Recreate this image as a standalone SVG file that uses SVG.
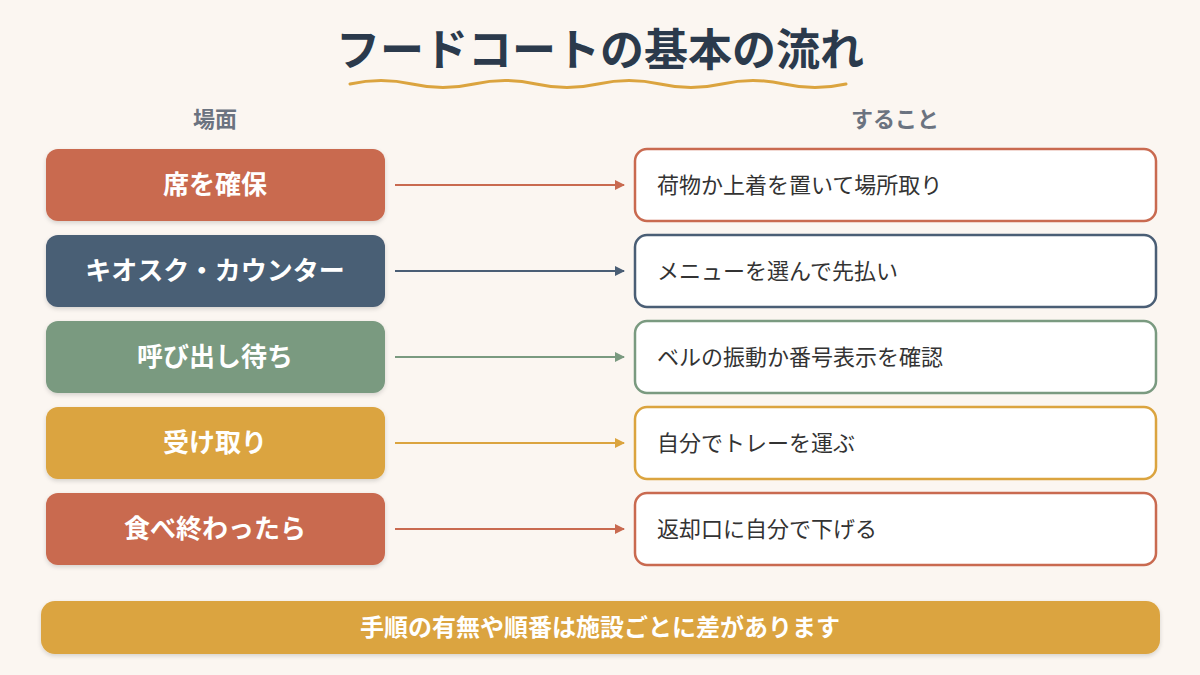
<svg xmlns="http://www.w3.org/2000/svg" width="1200" height="675" viewBox="0 0 1200 675">
<defs>
<style>
text{font-family:"Noto Sans CJK JP","Noto Sans",sans-serif}
.l{font-size:26px;font-weight:bold;fill:#fff;text-anchor:middle}
.r{font-size:22px;fill:#333}
.h{font-size:22px;font-weight:bold;fill:#6b7380;text-anchor:middle}
.rb{fill:#fff;stroke-width:2.5}
</style>
<filter id="sh" x="-5%" y="-10%" width="110%" height="130%"><feDropShadow dx="0" dy="2" stdDeviation="2" flood-color="#000" flood-opacity="0.15"/></filter>
<marker id="a1" markerWidth="10" markerHeight="10" refX="9" refY="5" orient="auto" markerUnits="userSpaceOnUse"><path d="M0,0 L10,5 L0,10z" fill="#C96A50"/></marker>
<marker id="a2" markerWidth="10" markerHeight="10" refX="9" refY="5" orient="auto" markerUnits="userSpaceOnUse"><path d="M0,0 L10,5 L0,10z" fill="#4A5E75"/></marker>
<marker id="a3" markerWidth="10" markerHeight="10" refX="9" refY="5" orient="auto" markerUnits="userSpaceOnUse"><path d="M0,0 L10,5 L0,10z" fill="#7A9A80"/></marker>
<marker id="a4" markerWidth="10" markerHeight="10" refX="9" refY="5" orient="auto" markerUnits="userSpaceOnUse"><path d="M0,0 L10,5 L0,10z" fill="#DBA43F"/></marker>
</defs>
<rect width="1200" height="675" fill="#FBF6F1"/>
<text x="600" y="66" font-size="44" font-weight="bold" fill="#2B3A4C" text-anchor="middle">フードコートの基本の流れ</text>
<path d="M350,84 q31,-7 62,0 t62,0 t62,0 t62,0 t62,0 t62,0 t62,0 t62,0" fill="none" stroke="#DBA43F" stroke-width="3" stroke-linecap="round"/>
<text class="h" x="215" y="127">場面</text>
<text class="h" x="895" y="127">すること</text>
<g id="connectors" stroke-width="2">
<line x1="395" y1="185" x2="624" y2="185" stroke="#C96A50" marker-end="url(#a1)"/>
<line x1="395" y1="271" x2="624" y2="271" stroke="#4A5E75" marker-end="url(#a2)"/>
<line x1="395" y1="357" x2="624" y2="357" stroke="#7A9A80" marker-end="url(#a3)"/>
<line x1="395" y1="443" x2="624" y2="443" stroke="#DBA43F" marker-end="url(#a4)"/>
<line x1="395" y1="529" x2="624" y2="529" stroke="#C96A50" marker-end="url(#a1)"/>
</g>
<g id="n1"><rect x="46" y="149" width="339" height="72" rx="12" fill="#C96A50" filter="url(#sh)"/><text class="l" x="215" y="194">席を確保</text></g>
<g id="n2"><rect x="46" y="235" width="339" height="72" rx="12" fill="#4A5E75" filter="url(#sh)"/><text class="l" x="215" y="280">キオスク・カウンター</text></g>
<g id="n3"><rect x="46" y="321" width="339" height="72" rx="12" fill="#7A9A80" filter="url(#sh)"/><text class="l" x="215" y="366">呼び出し待ち</text></g>
<g id="n4"><rect x="46" y="407" width="339" height="72" rx="12" fill="#DBA43F" filter="url(#sh)"/><text class="l" x="215" y="452">受け取り</text></g>
<g id="n5"><rect x="46" y="493" width="339" height="72" rx="12" fill="#C96A50" filter="url(#sh)"/><text class="l" x="215" y="538">食べ終わったら</text></g>
<g id="m1"><rect class="rb" x="635" y="149" width="521" height="72" rx="12" stroke="#C96A50"/><text class="r" x="657" y="193">荷物か上着を置いて場所取り</text></g>
<g id="m2"><rect class="rb" x="635" y="235" width="521" height="72" rx="12" stroke="#4A5E75"/><text class="r" x="657" y="279">メニューを選んで先払い</text></g>
<g id="m3"><rect class="rb" x="635" y="321" width="521" height="72" rx="12" stroke="#7A9A80"/><text class="r" x="657" y="365">ベルの振動か番号表示を確認</text></g>
<g id="m4"><rect class="rb" x="635" y="407" width="521" height="72" rx="12" stroke="#DBA43F"/><text class="r" x="657" y="451">自分でトレーを運ぶ</text></g>
<g id="m5"><rect class="rb" x="635" y="493" width="521" height="72" rx="12" stroke="#C96A50"/><text class="r" x="657" y="537">返却口に自分で下げる</text></g>
<g id="note"><rect x="41" y="601" width="1119" height="53" rx="14" fill="#DBA43F" filter="url(#sh)"/><text x="600" y="636" font-size="24" font-weight="bold" fill="#fff" text-anchor="middle">手順の有無や順番は施設ごとに差があります</text></g>
</svg>
